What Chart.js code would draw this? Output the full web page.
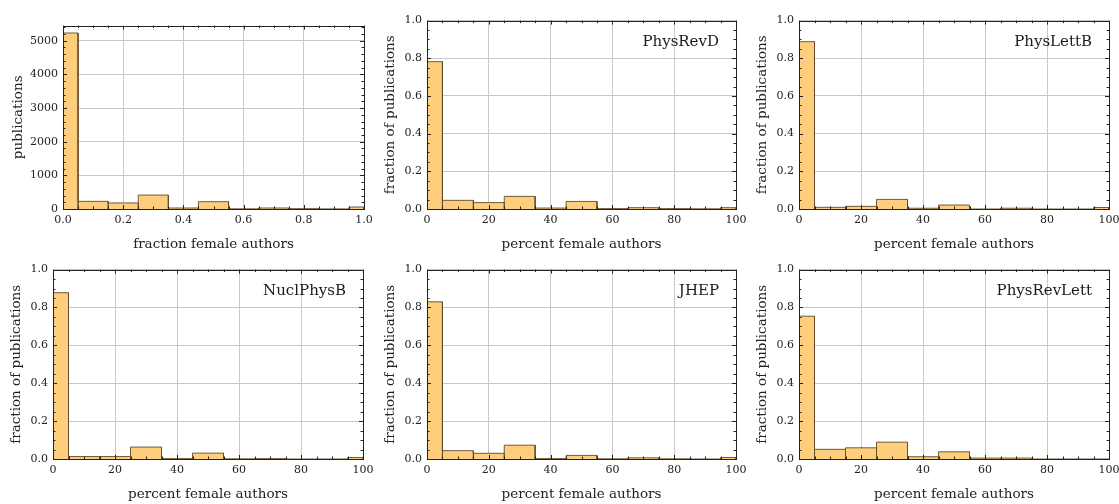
<!DOCTYPE html>
<html>
<head>
<meta charset="utf-8">
<script src="https://cdn.jsdelivr.net/npm/chart.js@4.4.1/dist/chart.umd.min.js"></script>
<style>
  body { margin: 0; background: #fff; overflow: hidden; }
  #wrap { position: relative; width: 1119px; height: 504px; }
  canvas { position: absolute; }
</style>
</head>
<body>
<div id="wrap"></div>
<script>
// bin edges in percent (half bins at both ends)
var binEdges = [0, 5, 15, 25, 35, 45, 55, 65, 75, 85, 95, 100];

// all journals, counts
var allCounts = [5230, 227, 180, 414, 30, 217, 5, 30, 10, 3, 59];
// per journal, fraction of publications
var physRevD = [0.782, 0.046, 0.034, 0.067, 0.005, 0.040, 0.002, 0.007, 0.002, 0.001, 0.007];
var physLettB = [0.888, 0.009, 0.014, 0.051, 0.004, 0.021, 0.0, 0.004, 0.0, 0.0, 0.008];
var nuclPhysB = [0.878, 0.013, 0.013, 0.063, 0.002, 0.031, 0.001, 0.002, 0.0, 0.0, 0.008];
var jhep = [0.830, 0.044, 0.030, 0.073, 0.002, 0.019, 0.001, 0.006, 0.001, 0.0, 0.008];
var physRevLett = [0.754, 0.051, 0.059, 0.089, 0.012, 0.038, 0.005, 0.005, 0.0, 0.0, 0.0];

// tick values and labels
var pctTicks = [0, 20, 40, 60, 80, 100];
var pctTickLabels = ["0", "20", "40", "60", "80", "100"];
var fracTicks = [0, 0.2, 0.4, 0.6, 0.8, 1.0];
var fracTickLabels = ["0.0", "0.2", "0.4", "0.6", "0.8", "1.0"];
var countTicks = [0, 1000, 2000, 3000, 4000, 5000];
var countTickLabels = ["0", "1000", "2000", "3000", "4000", "5000"];

var FONT = "'DejaVu Serif', 'Liberation Serif', serif";
var TEXT = "#222";

function histPoints(edges, values) {
    var pts = [{ x: edges[0], y: 0 }];
    values.forEach(function (v, i) {
        pts.push({ x: edges[i], y: v }, { x: edges[i + 1], y: v }, { x: edges[i + 1], y: 0 });
    });
    return pts;
}

// frame, inward ticks on all sides, journal name
var framePlugin = {
    id: "frame",
    afterDatasetsDraw: function (chart, args, opts) {
        var ctx = chart.ctx, a = chart.chartArea;
        var x = chart.scales.x, y = chart.scales.y;
        ctx.save();
        ctx.strokeStyle = "#222";
        ctx.lineWidth = 1;
        ctx.beginPath();
        var n = Math.round((x.max - x.min) / opts.xMinor);
        for (var i = 0; i <= n; i++) {
            var v = x.min + i * opts.xMinor;
            var px = Math.round(x.getPixelForValue(v)) + 0.5;
            var len = (i % opts.xPer === 0) ? 4 : 2.5;
            ctx.moveTo(px, a.bottom); ctx.lineTo(px, a.bottom - len);
            ctx.moveTo(px, a.top); ctx.lineTo(px, a.top + len);
        }
        var m = Math.floor((y.max - y.min) / opts.yMinor + 1e-6);
        for (var j = 0; j <= m; j++) {
            var w = y.min + j * opts.yMinor;
            var py = Math.round(y.getPixelForValue(w)) + 0.5;
            var l2 = (j % opts.yPer === 0) ? 4 : 2.5;
            ctx.moveTo(a.left, py); ctx.lineTo(a.left + l2, py);
            ctx.moveTo(a.right, py); ctx.lineTo(a.right - l2, py);
        }
        ctx.stroke();
        ctx.strokeRect(Math.round(a.left) + 0.5, Math.round(a.top) + 0.5,
            Math.round(a.right - a.left), Math.round(a.bottom - a.top));
        if (opts.label) {
            ctx.fillStyle = "#1a1a1a";
            ctx.font = "15px " + FONT;
            ctx.textAlign = "right";
            ctx.textBaseline = "middle";
            ctx.fillText(opts.label, a.right - 17, a.top + 22);
        }
        ctx.restore();
    }
};

var panels = [
    { values: allCounts, label: "", L: 63, T: 24, R: 364, B: 209, yW: 58, frac: true, count: true },
    { values: physRevD, label: "PhysRevD", L: 427, T: 19, R: 736, B: 209, yW: 50 },
    { values: physLettB, label: "PhysLettB", L: 799, T: 19, R: 1109, B: 209, yW: 50 },
    { values: nuclPhysB, label: "NuclPhysB", L: 53, T: 268, R: 363, B: 459, yW: 50 },
    { values: jhep, label: "JHEP", L: 427, T: 268, R: 736, B: 459, yW: 50 },
    { values: physRevLett, label: "PhysRevLett", L: 799, T: 268, R: 1109, B: 459, yW: 50 }
];

var PAD_TOP = 10, PAD_RIGHT = 16, X_H = 44;
var wrap = document.getElementById("wrap");

panels.forEach(function (p) {
    var c = document.createElement("canvas");
    var width = (p.R - p.L) + p.yW + PAD_RIGHT;
    var height = (p.B - p.T) + PAD_TOP + X_H;
    c.width = width; c.height = height;
    c.style.left = (p.L - p.yW) + "px";
    c.style.top = (p.T - PAD_TOP) + "px";
    c.style.width = width + "px"; c.style.height = height + "px";
    wrap.appendChild(c);

    var edges = p.frac ? binEdges.map(function (e) { return e / 100; }) : binEdges;
    var xT = p.frac ? fracTicks : pctTicks;
    var xL = p.frac ? fracTickLabels : pctTickLabels;
    var yT = p.count ? countTicks : fracTicks;
    var yL = p.count ? countTickLabels : fracTickLabels;

    new Chart(c.getContext("2d"), {
        type: "line",
        data: {
            datasets: [{
                data: histPoints(edges, p.values),
                fill: "origin",
                backgroundColor: "rgb(255, 206, 125)",
                borderColor: "rgba(95, 75, 45, 0.9)",
                borderWidth: 1,
                pointRadius: 0,
                tension: 0
            }]
        },
        options: {
            responsive: false,
            animation: false,
            devicePixelRatio: 1,
            layout: { padding: { top: PAD_TOP, right: PAD_RIGHT, left: 0, bottom: 0 } },
            plugins: {
                legend: { display: false },
                tooltip: { enabled: false },
                frame: {
                    label: p.label,
                    xMinor: p.frac ? 0.05 : 5, xPer: 4,
                    yMinor: p.count ? 200 : 0.05, yPer: p.count ? 5 : 4
                }
            },
            scales: {
                x: {
                    type: "linear",
                    min: 0, max: p.frac ? 1 : 100,
                    afterBuildTicks: function (s) { s.ticks = xT.map(function (v) { return { value: v }; }); },
                    afterFit: function (s) { s.height = X_H; },
                    ticks: {
                        padding: 5, color: TEXT, maxRotation: 0,
                        font: { family: FONT, size: 11 },
                        callback: function (v, i) { return xL[i]; }
                    },
                    grid: { color: "#c8c8c8", drawTicks: false },
                    border: { display: false },
                    title: {
                        display: true,
                        text: p.frac ? "fraction female authors" : "percent female authors",
                        color: TEXT, font: { family: FONT, size: 13.5 },
                        padding: { top: 0, bottom: 0 }
                    }
                },
                y: {
                    type: "linear",
                    min: 0, max: p.count ? 5450 : 1,
                    afterBuildTicks: function (s) { s.ticks = yT.map(function (v) { return { value: v }; }); },
                    afterFit: function (s) { s.width = p.yW; },
                    ticks: {
                        padding: 5, color: TEXT,
                        font: { family: FONT, size: 11 },
                        callback: function (v, i) { return yL[i]; }
                    },
                    grid: { color: "#c8c8c8", drawTicks: false },
                    border: { display: false },
                    title: {
                        display: true,
                        text: p.count ? "publications" : "fraction of publications",
                        color: TEXT, font: { family: FONT, size: 13.5 },
                        padding: { top: 5, bottom: 0 }
                    }
                }
            }
        },
        plugins: [framePlugin]
    });
});
</script>
</body>
</html>
